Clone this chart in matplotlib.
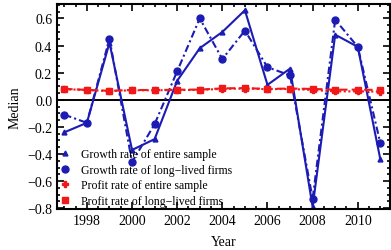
import matplotlib
matplotlib.use("Agg")
import matplotlib.pyplot as plt
from matplotlib.ticker import MultipleLocator

years = list(range(1997, 2012))
growth_entire = [-0.24, -0.17, 0.42, -0.37, -0.29, 0.14, 0.38, 0.50, 0.66, 0.11, 0.23, -0.79, 0.48, 0.39, -0.44]
growth_long = [-0.11, -0.17, 0.45, -0.46, -0.18, 0.21, 0.60, 0.30, 0.51, 0.24, 0.18, -0.73, 0.59, 0.39, -0.32]
profit_entire = [0.078, 0.072, 0.064, 0.070, 0.070, 0.072, 0.073, 0.080, 0.083, 0.078, 0.080, 0.072, 0.062, 0.062, 0.060]
profit_long = [0.080, 0.073, 0.066, 0.072, 0.072, 0.074, 0.075, 0.084, 0.086, 0.080, 0.083, 0.080, 0.074, 0.075, 0.072]

plt.rcParams['font.family'] = ['Liberation Serif', 'DejaVu Serif']
blue = '#1c1cb4'
red = '#f01818'

fig = plt.figure(figsize=[3.91, 2.51], dpi=100)
ax = fig.add_axes([0.146, 0.163, 0.851, 0.817])

ax.axhline(0, color='black', linewidth=1.4, zorder=1)
ax.plot(years, growth_entire, color=blue, linewidth=1.5, marker='^', markersize=3.5,
        label='Growth rate of entire sample')
ax.plot(years, growth_long, color=blue, linewidth=1.5, linestyle=(0, (3.5, 1.5, 1, 1.5)),
        marker='o', markersize=5, label='Growth rate of long\u2212lived firms')
ax.plot(years, profit_entire, color=red, linewidth=1.5, linestyle=(0, (1, 1.2)),
        marker='P', markersize=4, label='Profit rate of entire sample')
ax.plot(years, profit_long, color=red, linewidth=1.5, linestyle=(0, (4, 2)),
        marker='s', markersize=4, label='Profit rate of long\u2212lived firms')

ax.set_xlim(1996.68, 2011.42)
ax.set_ylim(-0.806, 0.706)
ax.xaxis.set_major_locator(MultipleLocator(2))
ax.xaxis.set_minor_locator(MultipleLocator(0.5))
ax.yaxis.set_major_locator(MultipleLocator(0.2))
ax.yaxis.set_minor_locator(MultipleLocator(0.05))
ax.yaxis.set_major_formatter(plt.FuncFormatter(lambda v, p: f"{v:.1f}".replace('-', '\u2212')))
ax.tick_params(which='both', direction='in', top=True, right=True, labelsize=10, width=1.2)
ax.tick_params(which='major', length=5)
ax.tick_params(which='minor', length=2.5)
for s in ax.spines.values():
    s.set_linewidth(1.5)

ax.set_xlabel("Year", fontsize=10, labelpad=6)
ax.set_ylabel("Median", fontsize=10, labelpad=4)

ax.legend(loc='lower left', frameon=False, fontsize=8.5, handlelength=0.5,
          handletextpad=1.1, labelspacing=0.3, borderaxespad=0.0,
          bbox_to_anchor=(0.0, -0.012))
leg = ax.get_legend()
for h in leg.legend_handles:
    h.set_linestyle('none')

fig.savefig("out.png", dpi=100)
